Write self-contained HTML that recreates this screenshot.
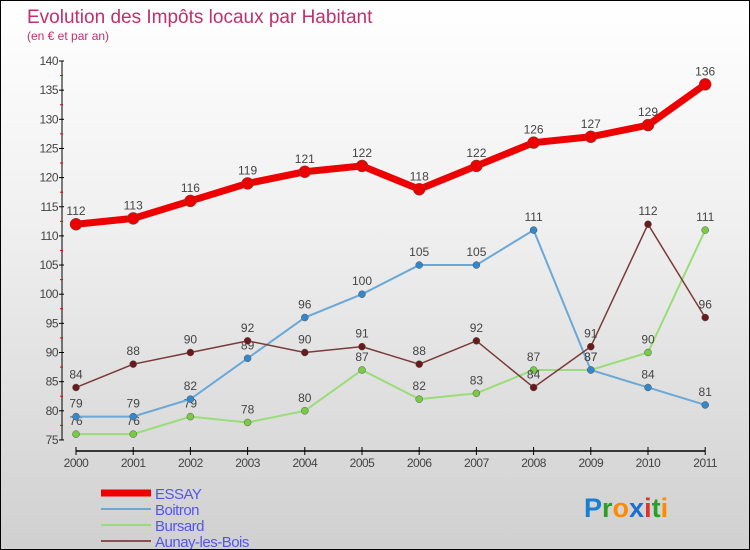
<!DOCTYPE html>
<html><head><meta charset="utf-8"><style>
body{margin:0;width:750px;height:550px;overflow:hidden;font-family:"Liberation Sans",sans-serif}
#wrap{position:relative;width:748px;height:548px;border:1px solid #000;background:linear-gradient(#ffffff,#f0f0f0 40%,#d0d0d0)}
</style></head><body>
<div id="wrap">
<svg id="chart" width="748" height="548" style="position:absolute;left:0;top:0">
<text x="26" y="22" font-size="19" fill="#c0306a">Evolution des Impôts locaux par Habitant</text>
<text x="26" y="39" font-size="12" fill="#c0306a">(en € et par an)</text>
<g id="axes"></g><g id="series"></g><g id="legend"></g>
<text x="583" y="516" font-size="27" font-weight="bold"><tspan fill="#1a7fd0">P</tspan><tspan fill="#2aa02a">r</tspan><tspan fill="#ff8a00">o</tspan><tspan fill="#1a6fd0">x</tspan><tspan fill="#e03030">i</tspan><tspan fill="#2aa02a">t</tspan><tspan fill="#ff8a00">i</tspan></text>
</svg>
</div>
<script>
const years=["2000","2001","2002","2003","2004","2005","2006","2007","2008","2009","2010","2011"];
const yTicks=[75,80,85,90,95,100,105,110,115,120,125,130,135,140];
const essay=[112,113,116,119,121,122,118,122,126,127,129,136];
const boitron=[79,79,82,89,96,100,105,105,111,87,84,81];
const bursard=[76,76,79,78,80,87,82,83,87,87,90,111];
const aunay=[84,88,90,92,90,91,88,92,84,91,112,96];
const NS="http://www.w3.org/2000/svg";
function X(i){return 75+i*57.2;}
function Y(v){return 60+(140-v)*5.83;}
function mk(t,a,p){const e=document.createElementNS(NS,t);for(const k in a)e.setAttribute(k,a[k]);p.appendChild(e);return e;}
const ax=document.getElementById('axes');
let l=mk('line',{x1:61,y1:Y(140),x2:61,y2:Y(75),stroke:'#000'},ax);


l=mk('line',{x1:X(0),y1:450,x2:X(11),y2:450,stroke:'#000','stroke-width':1.5},ax);


yTicks.forEach(v=>{
 mk('line',{x1:58,y1:Y(v),x2:63,y2:Y(v),stroke:'#000'},ax);
 if(v<140) mk('line',{x1:59,y1:Y(v+2.5),x2:62,y2:Y(v+2.5),stroke:'#e00'},ax);
 const t=mk('text',{x:57,y:Y(v)+4,'font-size':12,'text-anchor':'end',fill:'#444','letter-spacing':'-0.5'},ax);
 t.textContent=v;
 
 
});
years.forEach((y,i)=>{
 mk('line',{x1:X(i),y1:446,x2:X(i),y2:454,stroke:'#000'},ax);
 const t=mk('text',{x:X(i),y:466,'font-size':12,'text-anchor':'middle',fill:'#444','letter-spacing':'-0.5'},ax);
 t.textContent=y;
 
 
});
const se=document.getElementById('series');
function draw(vals,color,w,r,dot,name){
 const g=mk('g',{},se);
 
 
 const p=mk('polyline',{points:vals.map((v,i)=>X(i)+','+Y(v)).join(' '),fill:'none',stroke:color,'stroke-width':w},g);
 
 
 vals.forEach((v,i)=>{
  const c=mk('circle',{cx:X(i),cy:Y(v),r:r,fill:dot,stroke:'#555','stroke-width':0.5},g);
  
  
  const t=mk('text',{x:X(i),y:Y(v)-9,'font-size':12,'text-anchor':'middle',fill:'#444'},g);
  t.textContent=v;
  
  
 });
}
draw(bursard,'#99dd77',2,3.5,'#77cc44','bursard');
draw(boitron,'#6aa8d8',2,3.5,'#3388cc','boitron');
draw(aunay,'#7a3a3a',1.5,3.5,'#6a1a1a','aunay');
draw(essay,'#ee0000',7,6,'#ee0000','essay');
const lg=document.getElementById('legend');
const items=[["ESSAY","#ee0000",7],["Boitron","#6aa8d8",2],["Bursard","#99dd77",2],["Aunay-les-Bois","#8a5050",2]];
items.forEach((it,i)=>{
 const y=492+i*16;
 const g=mk('g',{},lg);
 
 
 mk('line',{x1:100,y1:y,x2:150,y2:y,stroke:it[1],'stroke-width':it[2]},g);
 const t=mk('text',{x:154,y:y+6,'font-size':15,fill:'#5555ee','letter-spacing':'-0.5'},g);
 t.textContent=it[0];
});
</script>
</body></html>
